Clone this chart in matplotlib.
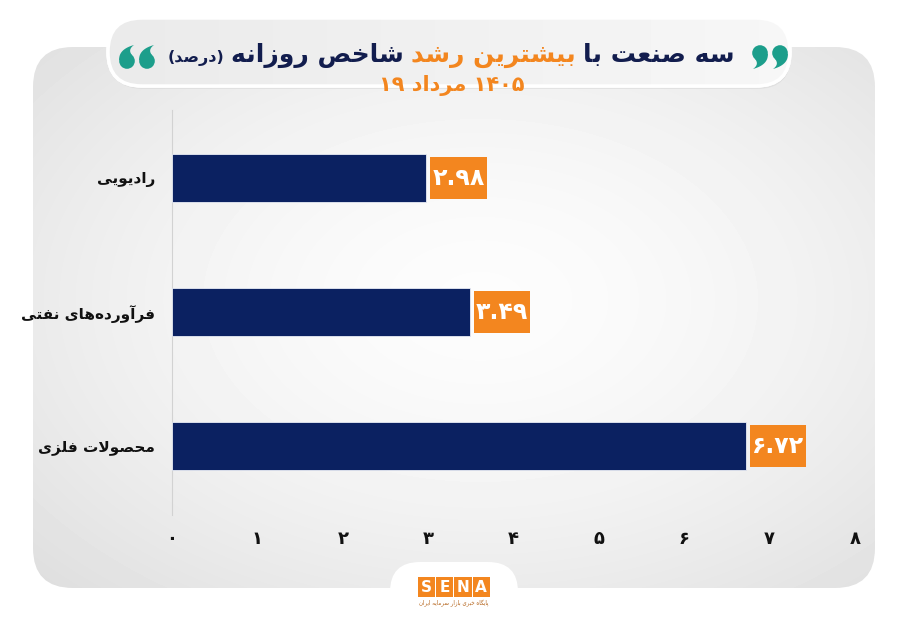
import re
import numpy as np
import matplotlib
matplotlib.use("Agg")
import matplotlib.pyplot as plt
from matplotlib import font_manager, ft2font
from matplotlib.patches import FancyBboxPatch, Rectangle, Circle, Polygon

# ---- data ----
categories = ["رادیویی", "فرآورده‌های نفتی", "محصولات فلزی"]
values = [2.98, 3.49, 6.72]
x_ticks = [0, 1, 2, 3, 4, 5, 6, 7, 8]
title_parts = ["سه صنعت با", "بیشترین رشد", "شاخص روزانه", "(درصد)"]
subtitle = "۱۴۰۵ مرداد ۱۹"
logo_letters = ["S", "E", "N", "A"]
logo_caption = "پایگاه خبری بازار سرمایه ایران"

NAVY = "#0b2161"
TITLE_NAVY = "#121d4e"
ORANGE = "#f3861f"
TEAL = "#1c9e8b"

plt.rcParams['font.family'] = ['DejaVu Sans']
plt.rcParams['font.weight'] = 'bold'

# ---- minimal arabic shaping (matplotlib has no shaping) ----
FORMS = {
    'ا': (0xFE8D, 0xFE8E), 'آ': (0xFE81, 0xFE82),
    'ب': (0xFE8F, 0xFE90, 0xFE91, 0xFE92), 'پ': (0xFB56, 0xFB57, 0xFB58, 0xFB59),
    'ت': (0xFE95, 0xFE96, 0xFE97, 0xFE98), 'ث': (0xFE99, 0xFE9A, 0xFE9B, 0xFE9C),
    'ج': (0xFE9D, 0xFE9E, 0xFE9F, 0xFEA0), 'چ': (0xFB7A, 0xFB7B, 0xFB7C, 0xFB7D),
    'ح': (0xFEA1, 0xFEA2, 0xFEA3, 0xFEA4), 'خ': (0xFEA5, 0xFEA6, 0xFEA7, 0xFEA8),
    'د': (0xFEA9, 0xFEAA), 'ذ': (0xFEAB, 0xFEAC), 'ر': (0xFEAD, 0xFEAE),
    'ز': (0xFEAF, 0xFEB0), 'ژ': (0xFB8A, 0xFB8B),
    'س': (0xFEB1, 0xFEB2, 0xFEB3, 0xFEB4), 'ش': (0xFEB5, 0xFEB6, 0xFEB7, 0xFEB8),
    'ص': (0xFEB9, 0xFEBA, 0xFEBB, 0xFEBC), 'ض': (0xFEBD, 0xFEBE, 0xFEBF, 0xFEC0),
    'ط': (0xFEC1, 0xFEC2, 0xFEC3, 0xFEC4), 'ظ': (0xFEC5, 0xFEC6, 0xFEC7, 0xFEC8),
    'ع': (0xFEC9, 0xFECA, 0xFECB, 0xFECC), 'غ': (0xFECD, 0xFECE, 0xFECF, 0xFED0),
    'ف': (0xFED1, 0xFED2, 0xFED3, 0xFED4), 'ق': (0xFED5, 0xFED6, 0xFED7, 0xFED8),
    'ک': (0xFB8E, 0xFB8F, 0xFB90, 0xFB91), 'گ': (0xFB92, 0xFB93, 0xFB94, 0xFB95),
    'ل': (0xFEDD, 0xFEDE, 0xFEDF, 0xFEE0), 'م': (0xFEE1, 0xFEE2, 0xFEE3, 0xFEE4),
    'ن': (0xFEE5, 0xFEE6, 0xFEE7, 0xFEE8), 'و': (0xFEED, 0xFEEE),
    'ه': (0xFEE9, 0xFEEA, 0xFEEB, 0xFEEC), 'ی': (0xFBFC, 0xFBFD, 0xFBFE, 0xFBFF),
    'ي': (0xFEF1, 0xFEF2, 0xFEF3, 0xFEF4),
}
FALLBACK = {
    'ی': (0xFEEF, 0xFEF0, 0xFEF3, 0xFEF4),
    'ک': (0xFED9, 0xFEDA, 0xFEDB, 0xFEDC),
}
LAM_ALEF = {'ا': (0xFEFB, 0xFEFC), 'آ': (0xFEF5, 0xFEF6)}

_font_path = font_manager.findfont(font_manager.FontProperties(family='DejaVu Sans', weight='bold'))
_cmap = ft2font.FT2Font(_font_path).get_charmap()
for ch, alt in FALLBACK.items():
    FORMS[ch] = tuple(a if a in _cmap else b for a, b in zip(FORMS[ch], alt))


def joins_next(c):
    return c in FORMS and len(FORMS[c]) == 4


def shape(text):
    out = []
    n = len(text)
    i = 0
    while i < n:
        c = text[i]
        if c not in FORMS:
            out.append(c)
            i += 1
            continue
        p = i > 0 and joins_next(text[i - 1])
        if c == 'ل' and i + 1 < n and text[i + 1] in LAM_ALEF:
            iso, fin = LAM_ALEF[text[i + 1]]
            out.append(chr(fin if p else iso))
            i += 2
            continue
        q = joins_next(c) and i + 1 < n and text[i + 1] in FORMS
        forms = FORMS[c]
        k = 3 if (p and q) else 1 if p else 2 if q else 0
        out.append(chr(forms[k]))
        i += 1
    return ''.join(out).replace('\u200c', '')


def rtl(text):
    s = shape(text)
    tokens = re.findall(r'[0-9\u06F0-\u06F9.]+|[^0-9\u06F0-\u06F9.]+', s)
    res = []
    for tok in reversed(tokens):
        if re.match(r'[0-9\u06F0-\u06F9.]', tok):
            res.append(tok)
        else:
            res.append(tok[::-1].translate(str.maketrans('()', ')(')))
    return ''.join(res)


def fa_digits(s):
    return s.translate(str.maketrans('0123456789', '۰۱۲۳۴۵۶۷۸۹'))


def quote_blob(axis, cx, cy, r, flip):
    # one "9" shaped blob (flip=True gives the "6" shape)
    sgn = -1 if flip else 1
    t = np.linspace(0, 1, 24)[:, None]
    p0, c1, p1 = np.array([1.0, 0.1]), np.array([1.1, 1.5]), np.array([-0.9, 2.05])
    c2, p2 = np.array([-0.05, 1.45]), np.array([-0.65, 0.75])
    outer = (1 - t) ** 2 * p0 + 2 * t * (1 - t) * c1 + t ** 2 * p1
    inner = (1 - t) ** 2 * p1 + 2 * t * (1 - t) * c2 + t ** 2 * p2
    pts = np.vstack([outer, inner]) * sgn * r + np.array([cx, cy])
    axis.add_patch(Polygon(pts, closed=True, facecolor=TEAL, edgecolor='none', zorder=5))
    axis.add_patch(Circle((cx, cy), r, facecolor=TEAL, edgecolor='none', zorder=5))


# ---- figure & background ----
W, H = 900, 623
fig = plt.figure(figsize=(W / 100, H / 100), dpi=100, facecolor='white')
bg = fig.add_axes([0, 0, 1, 1])
bg.set_xlim(0, W)
bg.set_ylim(H, 0)
bg.axis('off')

panel = FancyBboxPatch((33, 47), 842, 541, boxstyle="round,pad=0,rounding_size=40",
                       facecolor='none', edgecolor='none')
bg.add_patch(panel)
yy, xx = np.mgrid[0:H, 0:W]
d = np.sqrt(((xx - 480) / 520.0) ** 2 + ((yy - 300) / 340.0) ** 2)
g = np.clip(0.99 - 0.09 * d ** 1.6, 0.87, 1.0)
img = bg.imshow(g, cmap='gray', vmin=0, vmax=1, extent=(0, W, H, 0), zorder=1,
                interpolation='bilinear')
img.set_clip_path(panel)

# white bump under the logo
bg.add_patch(FancyBboxPatch((390, 562), 128, 90, boxstyle="round,pad=0,rounding_size=30",
                            facecolor='white', edgecolor='none', zorder=2))

# title pill
bg.add_patch(FancyBboxPatch((109, 21), 682, 68, boxstyle="round,pad=0,rounding_size=34",
                            facecolor='#d9d9d9', edgecolor='none', alpha=0.6, zorder=2))
pill = FancyBboxPatch((108, 18), 682, 68, boxstyle="round,pad=0,rounding_size=34",
                      facecolor='#efefef', edgecolor='white', linewidth=2.5, zorder=3)
bg.add_patch(pill)
gp = np.tile(np.linspace(0.91, 0.975, W), (H, 1))
pimg = bg.imshow(gp, cmap='gray', vmin=0, vmax=1, extent=(0, W, H, 0), zorder=3.1)
pimg.set_clip_path(pill)
bg.add_patch(FancyBboxPatch((108, 18), 682, 68, boxstyle="round,pad=0,rounding_size=34",
                            facecolor='none', edgecolor='white', linewidth=2.5, zorder=3.2))

# title pieces, laid out right to left
renderer = fig.canvas.get_renderer()
pieces = [
    (title_parts[0], TITLE_NAVY, 18),
    (title_parts[1], ORANGE, 18),
    (title_parts[2], TITLE_NAVY, 18),
    (title_parts[3], TITLE_NAVY, 11.5),
]
gap = 7
texts = []
for s, col, fs in pieces:
    t = bg.text(0, 62, rtl(s), color=col, fontsize=fs, fontweight='bold',
                ha='left', va='baseline', zorder=5)
    texts.append(t)
widths = [t.get_window_extent(renderer).width for t in texts]
total = sum(widths) + gap * (len(widths) - 1)
x_right = 451 + total / 2
for t, w in zip(texts, widths):
    t.set_x(x_right - w)
    x_right -= w + gap

# quote marks
for cx in (127, 147):
    quote_blob(bg, cx, 61, 7.8, flip=True)
for cx in (760, 780):
    quote_blob(bg, cx, 53, 7.8, flip=False)

bg.text(452, 86, rtl(subtitle), color=ORANGE, fontsize=15, fontweight='bold',
        ha='center', va='center', zorder=5)

# logo
for i, letter in enumerate(logo_letters):
    x0 = 418 + i * 18.2
    bg.add_patch(Rectangle((x0, 577), 17.2, 20, facecolor=ORANGE, edgecolor='none', zorder=5))
    bg.text(x0 + 8.6, 587.5, letter, color='white', fontsize=11, fontweight='bold',
            ha='center', va='center', zorder=6)
bg.text(454, 603, rtl(logo_caption), color='#b5651d', fontsize=4, fontweight='normal',
        ha='center', va='center', zorder=6)

# ---- chart ----
left, right = 172, 855
top, bottom = 110, 515
ax = fig.add_axes([left / W, 1 - bottom / H, (right - left) / W, (bottom - top) / H])
ax.patch.set_alpha(0)
ypos = np.arange(len(categories))
ax.barh(ypos, values, height=0.36, color=NAVY, edgecolor='#e8ecf5', linewidth=0.6, zorder=3)
ax.set_xlim(0, 8)
ax.set_ylim(2.515, -0.507)

box_w, box_h = 0.66, 0.32
for y, v in zip(ypos, values):
    x0 = v + 0.045
    ax.add_patch(Rectangle((x0, y - box_h / 2), box_w, box_h, facecolor=ORANGE,
                           edgecolor='none', zorder=4, clip_on=False))
    ax.text(x0 + box_w / 2, y, fa_digits(f"{v:.2f}"), color='white', fontsize=17,
            fontweight='bold', ha='center', va='center', zorder=5, clip_on=False)

ax.set_yticks(ypos)
ax.set_yticklabels([rtl(c) for c in categories], fontsize=11, fontweight='bold', color='#111111')
ax.set_xticks(x_ticks)
ax.set_xticklabels([fa_digits(str(t)) for t in x_ticks], fontsize=13, fontweight='bold', color='#111111')
ax.tick_params(axis='y', length=0, pad=12)
ax.tick_params(axis='x', length=0, pad=11)
for side in ['top', 'right', 'bottom']:
    ax.spines[side].set_visible(False)
ax.spines['left'].set_color('#d2d2d2')
ax.spines['left'].set_linewidth(0.8)

fig.savefig('out.png', dpi=100, facecolor='white')
